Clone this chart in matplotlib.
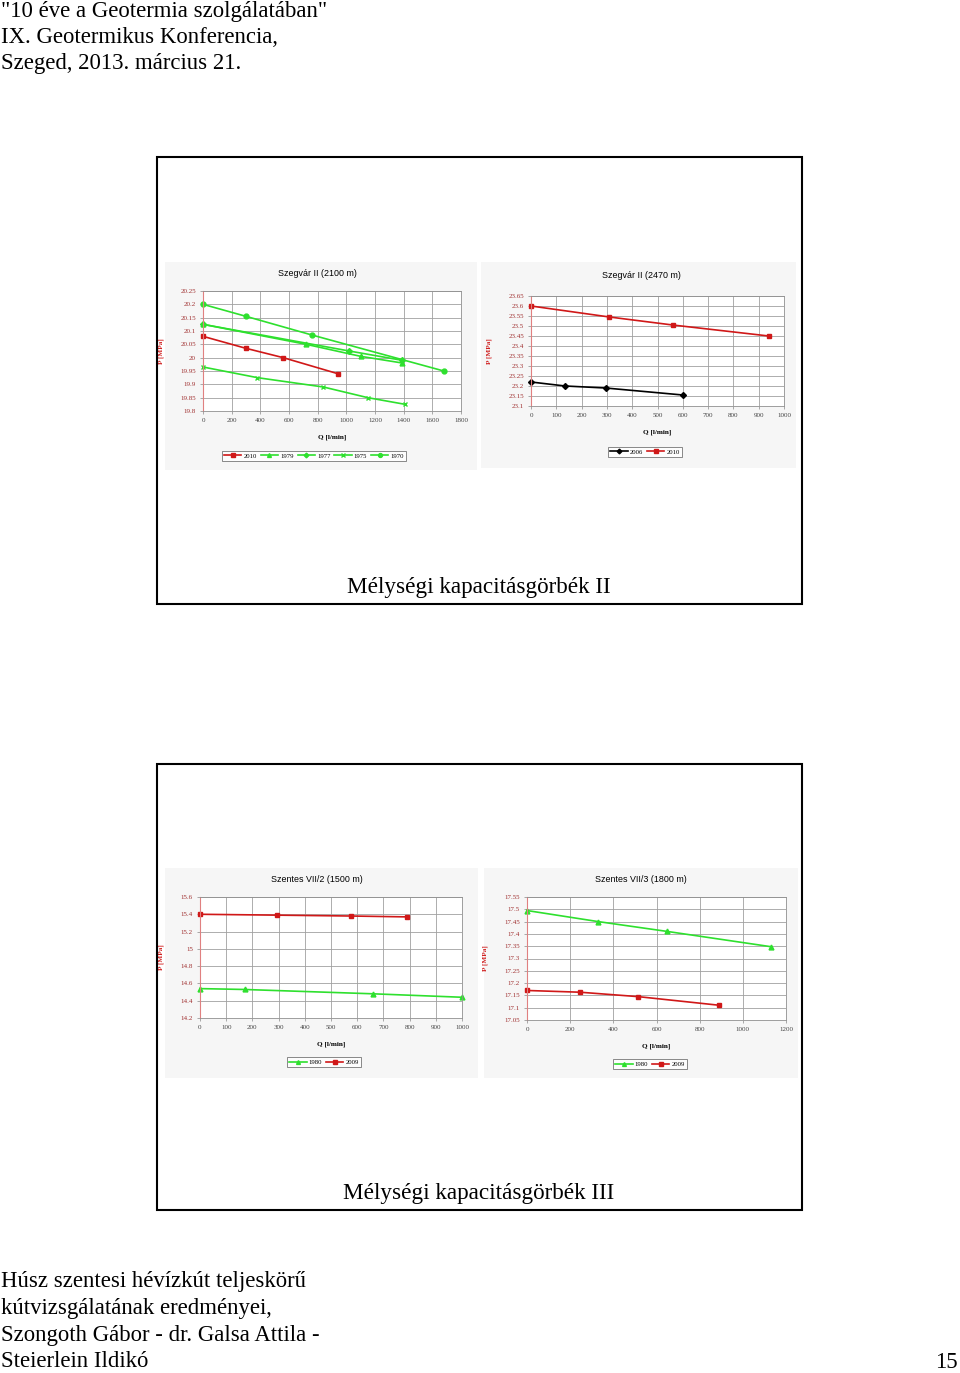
import matplotlib.pyplot as plt
from matplotlib.patches import Rectangle

W, H = 960, 1373

# Szegvár II (2100 m)
q2010_a = [0, 300, 560, 940]
p2010_a = [20.08, 20.035, 20.0, 19.94]
q1979_a = [0, 720, 1100, 1390]
p1979_a = [20.125, 20.05, 20.005, 19.98]
q1977_a = [0, 1020, 1390]
p1977_a = [20.125, 20.025, 19.99]
q1975_a = [0, 380, 840, 1150, 1410]
p1975_a = [19.965, 19.925, 19.89, 19.85, 19.825]
q1970_a = [0, 300, 760, 1680]
p1970_a = [20.2, 20.155, 20.085, 19.95]

# Szegvár II (2470 m)
q2006_b = [0, 135, 295, 600]
p2006_b = [23.22, 23.2, 23.19, 23.155]
q2010_b = [0, 310, 560, 940]
p2010_b = [23.6, 23.545, 23.505, 23.45]

# Szentes VII/2 (1500 m)
q1980_c = [0, 170, 660, 1000]
p1980_c = [14.54, 14.53, 14.48, 14.44]
q2009_c = [0, 295, 575, 790]
p2009_c = [15.4, 15.39, 15.38, 15.37]

# Szentes VII/3 (1800 m)
q1980_d = [0, 330, 650, 1130]
p1980_d = [17.495, 17.45, 17.41, 17.348]
q2009_d = [0, 245, 515, 890]
p2009_d = [17.17, 17.163, 17.145, 17.11]

yticks_a = [19.8, 19.85, 19.9, 19.95, 20, 20.05, 20.1, 20.15, 20.2, 20.25]
ylabels_a = ["19.8", "19.85", "19.9", "19.95", "20", "20.05", "20.1", "20.15", "20.2", "20.25"]
yticks_b = [23.1, 23.15, 23.2, 23.25, 23.3, 23.35, 23.4, 23.45, 23.5, 23.55, 23.6, 23.65]
ylabels_b = ["23.1", "23.15", "23.2", "23.25", "23.3", "23.35", "23.4", "23.45", "23.5", "23.55", "23.6", "23.65"]
yticks_c = [14.2, 14.4, 14.6, 14.8, 15, 15.2, 15.4, 15.6]
ylabels_c = ["14.2", "14.4", "14.6", "14.8", "15", "15.2", "15.4", "15.6"]
yticks_d = [17.05, 17.1, 17.15, 17.2, 17.25, 17.3, 17.35, 17.4, 17.45, 17.5, 17.55]
ylabels_d = ["17.05", "17.1", "17.15", "17.2", "17.25", "17.3", "17.35", "17.4", "17.45", "17.5", "17.55"]

GREEN = "#2ee02e"
PALE = "#7ee87e"
RED = "#d01818"
SERIF = "Liberation Serif"
SANS = "Liberation Sans"

fig = plt.figure(figsize=(W / 100, H / 100), dpi=100)


def fbox(x0, y0, x1, y1):
    return [x0 / W, 1 - y1 / H, (x1 - x0) / W, (y1 - y0) / H]


def ftext(x, y, s, **kw):
    fig.text(x / W, 1 - y / H, s, **kw)


# slide frames
for y0, y1 in [(157, 604), (764, 1210)]:
    fig.patches.append(Rectangle((157 / W, 1 - y1 / H), 645 / W, (y1 - y0) / H,
                                 transform=fig.transFigure, fill=False,
                                 edgecolor="black", linewidth=1.5))

# light grey chart images
for x0, y0, x1, y1 in [(165, 262, 477, 470), (481, 262, 796, 468),
                       (165, 868, 478, 1078), (484, 868, 798, 1078)]:
    fig.patches.append(Rectangle((x0 / W, 1 - y1 / H), (x1 - x0) / W, (y1 - y0) / H,
                                 transform=fig.transFigure, facecolor="#f6f6f6",
                                 edgecolor="none", zorder=-1))


def chart(box, title, title_xy, xlim, xticks, ylim, yticks, ylabels, series, leg_xy, leg_cols):
    ax = fig.add_axes(fbox(*box))
    ax.set_zorder(3)
    ax.set_facecolor("white")
    for q, p, lab, col, mk, ms, mfc in series:
        ax.plot(q, p, color=col, marker=mk, markersize=ms, markerfacecolor=mfc,
                markeredgecolor=col, linewidth=1.2, label=lab, clip_on=False)
    ax.set_xlim(*xlim)
    ax.set_ylim(*ylim)
    ax.set_xticks(xticks)
    ax.set_xticklabels([str(t) for t in xticks], fontsize=5, family=SERIF)
    ax.set_yticks(yticks)
    ax.set_yticklabels(ylabels, fontsize=5, family=SERIF)
    ax.grid(True, color="#a0a0a0", linewidth=0.6)
    ax.tick_params(length=2, width=0.5, pad=3, colors="#888888")
    for lbl in ax.get_yticklabels():
        lbl.set_color("#a03030")
    for lbl in ax.get_xticklabels():
        lbl.set_color("#444444")
    for s in ["top", "right", "bottom"]:
        ax.spines[s].set_color("#909090")
        ax.spines[s].set_linewidth(0.6)
    ax.spines["left"].set_color("#e08080")
    ax.spines["left"].set_linewidth(0.8)
    ax.set_xlabel("Q [l/min]", fontsize=5.2, family=SERIF, fontweight="bold", labelpad=8)
    ax.set_ylabel("P [MPa]", fontsize=5.2, family=SERIF, fontweight="bold", color="#d02020", labelpad=12)
    ftext(title_xy[0], title_xy[1], title, fontsize=6.4, family=SANS, ha="center", va="center")
    leg = ax.legend(loc="center", bbox_to_anchor=(leg_xy[0] / W, 1 - leg_xy[1] / H),
                    bbox_transform=fig.transFigure, ncol=leg_cols,
                    prop={"family": SERIF, "size": 4.8}, frameon=True, fancybox=False,
                    edgecolor="#555555", handlelength=2.6, handletextpad=0.3,
                    columnspacing=0.6, borderpad=0.35, markerscale=0.8)
    leg.get_frame().set_linewidth(0.6)
    return ax


chart((203, 291, 461, 411), "Szegvár II (2100 m)", (317, 274),
      (0, 1800), list(range(0, 1801, 200)), (19.8, 20.25), yticks_a, ylabels_a,
      [(q2010_a, p2010_a, "2010", RED, "s", 3.5, RED),
       (q1979_a, p1979_a, "1979", GREEN, "^", 3.5, GREEN),
       (q1977_a, p1977_a, "1977", GREEN, "D", 3, GREEN),
       (q1975_a, p1975_a, "1975", GREEN, "x", 3.5, PALE),
       (q1970_a, p1970_a, "1970", GREEN, "o", 3.5, GREEN)],
      (314, 456), 5)

chart((531, 296, 784, 406), "Szegvár II (2470 m)", (641, 275),
      (0, 1000), list(range(0, 1001, 100)), (23.1, 23.65), yticks_b, ylabels_b,
      [(q2006_b, p2006_b, "2006", "black", "D", 3, "black"),
       (q2010_b, p2010_b, "2010", RED, "s", 3.5, RED)],
      (645, 452), 2)

chart((200, 897, 462, 1018), "Szentes VII/2 (1500 m)", (317, 880),
      (0, 1000), list(range(0, 1001, 100)), (14.2, 15.6), yticks_c, ylabels_c,
      [(q1980_c, p1980_c, "1980", GREEN, "^", 3.5, GREEN),
       (q2009_c, p2009_c, "2009", RED, "s", 3.5, RED)],
      (324, 1062), 2)

chart((527, 897, 786, 1020), "Szentes VII/3 (1800 m)", (641, 880),
      (0, 1200), list(range(0, 1201, 200)), (17.05, 17.55), yticks_d, ylabels_d,
      [(q1980_d, p1980_d, "1980", GREEN, "^", 3.5, GREEN),
       (q2009_d, p2009_d, "2009", RED, "s", 3.5, RED)],
      (650, 1064), 2)

# slide captions
ftext(479, 587, "Mélységi kapacitásgörbék II", fontsize=16.7, family=SERIF, ha="center", va="center")
ftext(479, 1193, "Mélységi kapacitásgörbék III", fontsize=16.7, family=SERIF, ha="center", va="center")

# header and footer
header = ['"10 éve a Geotermia szolgálatában"', "IX. Geotermikus Konferencia,",
          "Szeged, 2013. március 21."]
for i, line in enumerate(header):
    ftext(1, 11 + i * 26.5, line, fontsize=16.4, family=SERIF, ha="left", va="center")
footer = ["Húsz szentesi hévízkút teljeskörű", "kútvizsgálatának eredményei,",
          "Szongoth Gábor - dr. Galsa Attila -", "Steierlein Ildikó"]
for i, line in enumerate(footer):
    ftext(1, 1282 + i * 26.5, line, fontsize=16.4, family=SERIF, ha="left", va="center")
ftext(958, 1362, "15", fontsize=16.4, family=SERIF, ha="right", va="center")

fig.savefig("out.png", dpi=100)
